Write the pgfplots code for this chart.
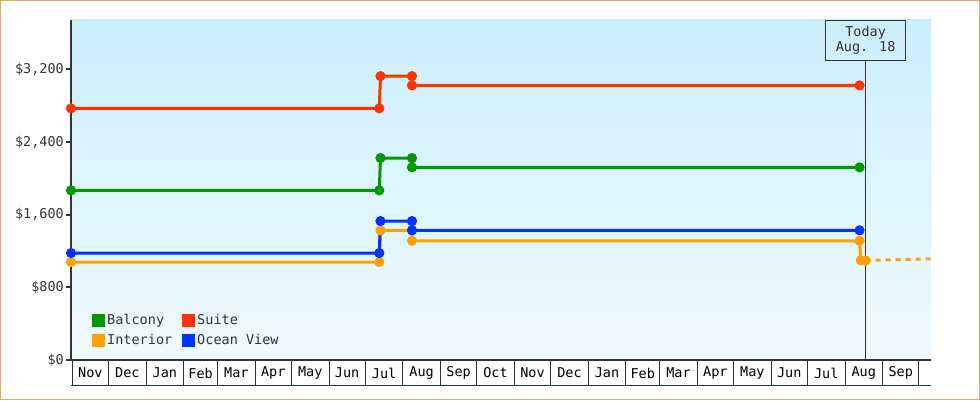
\documentclass[border=0pt]{standalone}
\usepackage{fontspec}
\setmainfont{DejaVu Sans Mono}
\setmonofont{DejaVu Sans Mono}
\usepackage{pgfplots}
\pgfplotsset{compat=1.18}
\definecolor{bordercol}{HTML}{E9A864}
\definecolor{bgtop}{HTML}{CCEFFC}
\definecolor{bgbot}{HTML}{F0FAFE}
\definecolor{axcol}{HTML}{333333}
\definecolor{balcony}{HTML}{009900}
\definecolor{suite}{HTML}{FF3300}
\definecolor{interior}{HTML}{FFA200}
\definecolor{ocean}{HTML}{0033FF}
\newcommand{\chartfont}{\fontsize{13.5bp}{15bp}\selectfont}

\begin{document}
\begin{tikzpicture}[x=1bp,y=1bp]
\path[use as bounding box] (0,0) rectangle (980,400);
\draw[bordercol, line width=1.5bp] (0.75,0.75) rectangle (979.25,399.25);
\begin{axis}[
    at={(71bp,40bp)}, anchor=south west,
    scale only axis, width=860bp, height=340bp,
    xmin=-1, xmax=709, ymin=0, ymax=3744,
    clip=false,
    axis x line*=bottom, axis y line*=left,
    axis line style={draw=axcol, line width=2bp},
    axis background/.style={top color=bgtop, bottom color=bgbot},
    tick align=outside,
    ytick={0,800,1600,2400,3200},
    yticklabels={\$0,\$800,{\$1,600},{\$2,400},{\$3,200}},
    ytick style={draw=axcol, line width=2bp},
    major tick length=5bp,
    yticklabel style={font=\chartfont, text=axcol, inner sep=2bp},
    xtick={0,30,61,92,120,151,181,212,242,273,304,334,365,395,426,457,485,516,546,577,607,638,669,699},
    xticklabels={},
    xtick style={draw=axcol, line width=1bp, /pgfplots/major tick length=25bp},
    extra x ticks={15,45.5,76.5,106,135.5,166,196.5,227,257.5,288.5,319,349.5,380,410.5,441.5,471,500.5,531,561.5,592,622.5,653.5,684},
    extra x tick labels={Nov,Dec,Jan,Feb,Mar,Apr,May,Jun,Jul,Aug,Sep,Oct,Nov,Dec,Jan,Feb,Mar,Apr,May,Jun,Jul,Aug,Sep},
    extra x tick style={xtick style={draw=none}, major tick length=0pt,
        xticklabel style={font=\chartfont, text=black, anchor=center, yshift=-13bp}},
    legend columns=2,
    legend cell align=left,
    legend style={at={(axis description cs:0.021,0.029)}, anchor=south west,
        draw=none, fill=none, font=\chartfont, text=axcol,
        /tikz/every even column/.append style={column sep=8bp},
        row sep=4bp},
    legend image code/.code={\fill[#1] (0bp,-5bp) rectangle (10bp,5bp);},
    every axis plot/.append style={line width=3bp, mark=*, mark size=3.5bp},
]
% today marker
\node[draw=axcol, line width=1bp, minimum width=80bp, minimum height=40bp,
      anchor=north, align=center, font=\chartfont, text=axcol, inner sep=1bp]
      (today) at (axis cs:655,3744) {Today\\Aug. 18};
\draw[axcol, line width=1bp] (today.south) -- (axis cs:655,0);

\addplot[balcony, mark options={fill=balcony}] coordinates {
  (-1,1868) (253.5,1868) (254.5,2224) (280.5,2224) (280.5,2121) (650,2121)};
\addlegendentry{Balcony}
\addplot[suite, mark options={fill=suite}] coordinates {
  (-1,2771) (253.5,2771) (254.5,3126) (280.5,3126) (280.5,3024) (650,3024)};
\addlegendentry{Suite}
\addplot[interior, mark options={fill=interior}] coordinates {
  (-1,1079) (253.5,1079) (254.5,1428) (280.5,1428) (280.5,1313) (650,1313) (651,1097) (655,1097)};
\addlegendentry{Interior}
\addplot[interior, no marks, dash pattern=on 5bp off 5bp, forget plot] coordinates {
  (655,1097) (709,1115)};
\addplot[ocean, mark options={fill=ocean}] coordinates {
  (-1,1178) (253.5,1178) (254.5,1530) (280.5,1530) (280.5,1428) (650,1428)};
\addlegendentry{Ocean View}

\draw[axcol, line width=1bp] ([yshift=-25bp]rel axis cs:0,0) -- ([yshift=-25bp]rel axis cs:1,0);
\end{axis}
\end{tikzpicture}
\end{document}
